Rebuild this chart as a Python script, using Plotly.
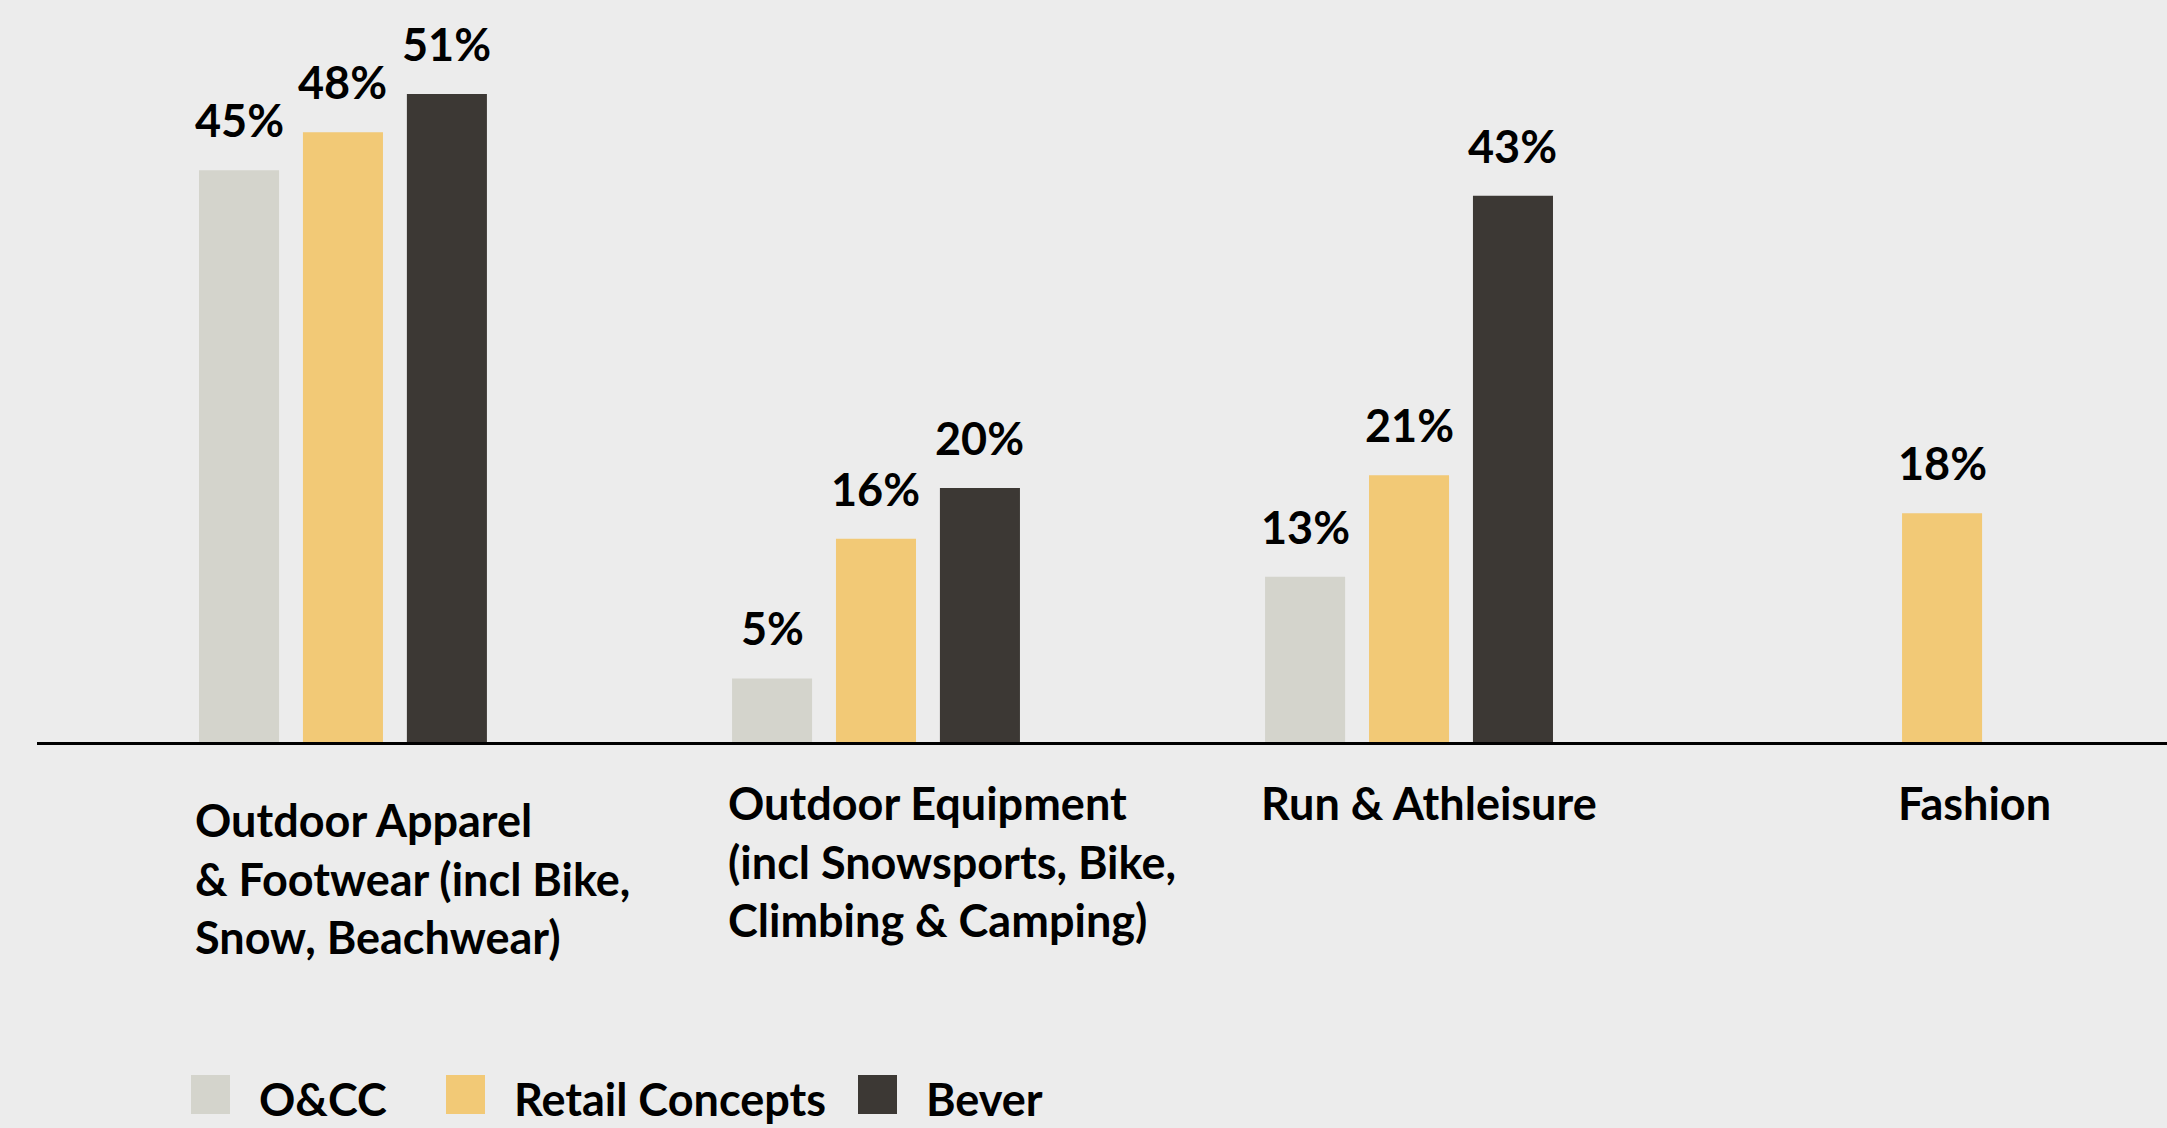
import plotly.graph_objects as go

# ---------------- data ----------------
categories = [
    "Outdoor Apparel<br>& Footwear (incl Bike,<br>Snow, Beachwear)",
    "Outdoor Equipment<br>(incl Snowsports, Bike,<br>Climbing & Camping)",
    "Run & Athleisure",
    "Fashion",
]
series_names = ["O&CC", "Retail Concepts", "Bever"]
occ_values = [45, 5, 13, None]
retail_values = [48, 16, 21, 18]
bever_values = [51, 20, 43, None]

# ---------------- style ----------------
colors = ["#D4D4CC", "#F2C976", "#3C3834"]
bg = "#ECECEC"
FONT = "Lato"
FS = 45
W, H = 2167, 1128
ML, MR, MT, MB = 37, 0, 0, 386
PW, PH = W - ML - MR, H - MT - MB
bargap, bargroupgap = 0.415, 0.23
label_yshift = [-49, -32, -32, -32]      # category label vertical offsets (px)
legend_sq_px = [191, 446, 858]           # legend square left edges (px)

series = [occ_values, retail_values, bever_values]
n = len(series)
pitch = (1 - bargap) / n
barw = pitch * (1 - bargroupgap)

fig = go.Figure()
for name, vals, col in zip(series_names, series, colors):
    fig.add_trace(go.Bar(
        x=list(range(len(categories))), y=vals, name=name,
        marker=dict(color=col, line=dict(width=0)),
        showlegend=False, hoverinfo="skip",
    ))

annotations = []
# value labels above bars
for i, vals in enumerate(series):
    off = (i - (n - 1) / 2) * pitch
    for j, v in enumerate(vals):
        if v is None:
            continue
        annotations.append(dict(
            x=j + off, y=v, xref="x", yref="y", text=f"{v}%",
            showarrow=False, yanchor="bottom", xanchor="center", yshift=21,
            font=dict(family=FONT, size=FS, color="#000000", weight=700),
        ))

# category labels, left aligned to the first bar of each group
for j, cat in enumerate(categories):
    first = next(i for i in range(n) if series[i][j] is not None)
    left = j + (first - (n - 1) / 2) * pitch - barw / 2
    annotations.append(dict(
        x=left, y=0, xref="x", yref="paper", text=cat, showarrow=False,
        xanchor="left", yanchor="top", align="left", yshift=label_yshift[j],
        xshift=-6,
        font=dict(family=FONT, size=FS, color="#000000", weight=700),
    ))

def px2x(p):
    return (p - ML) / PW

def py2y(p):
    return (MT + PH - p) / PH

shapes = []
sq = 39
sq_top = 1075
for k, name in enumerate(series_names):
    x0 = legend_sq_px[k]
    shapes.append(dict(
        type="rect", xref="paper", yref="paper",
        x0=px2x(x0), x1=px2x(x0 + sq), y0=py2y(sq_top + sq), y1=py2y(sq_top),
        fillcolor=colors[k], line=dict(width=0),
    ))
    annotations.append(dict(
        x=px2x(x0 + sq + 27), y=py2y(sq_top + sq / 2 + 4), xref="paper", yref="paper",
        text=name, showarrow=False, xanchor="left", yanchor="middle",
        font=dict(family=FONT, size=FS, color="#000000", weight=700),
    ))

fig.update_layout(
    width=W, height=H,
    margin=dict(l=ML, r=MR, t=MT, b=MB, pad=0),
    paper_bgcolor=bg, plot_bgcolor=bg,
    barmode="group", bargap=bargap, bargroupgap=bargroupgap,
    xaxis=dict(
        range=[-0.574, 3.422], showticklabels=False, ticks="",
        showgrid=False, zeroline=False,
        showline=True, linecolor="#000000", linewidth=3,
    ),
    yaxis=dict(range=[0, 58.4], visible=False, showgrid=False, zeroline=False),
    annotations=annotations, shapes=shapes,
    showlegend=False,
)

fig.write_html(
    "out.html",
    config={"displayModeBar": False},
    post_script="document.body.style.margin='0';document.body.style.background='#ECECEC';document.body.style.overflow='hidden';",
)
